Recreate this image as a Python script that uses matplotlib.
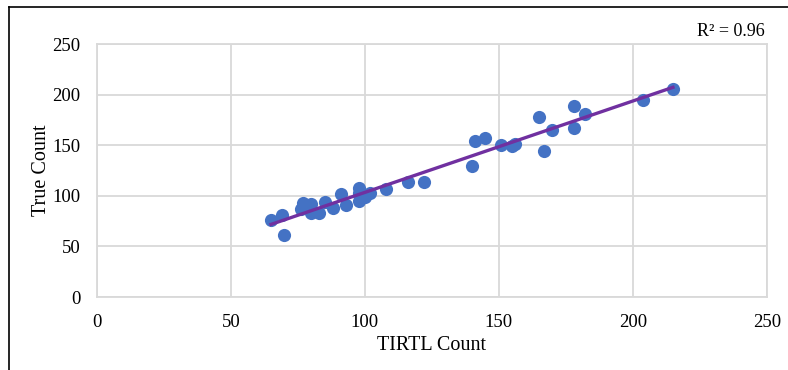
import numpy as np
import matplotlib
matplotlib.use("Agg")
import matplotlib.pyplot as plt
from matplotlib.lines import Line2D

tirtl = [65, 69, 70, 76, 77, 80, 80, 83, 85, 88, 91, 93, 98, 98, 98, 100, 102,
         108, 116, 122, 140, 141, 145, 151, 155, 156, 165, 167, 170, 178, 178,
         182, 204, 215]
true_count = [76, 81, 61, 87, 93, 92, 83, 83, 94, 88, 102, 91, 108, 103, 95, 99, 103,
              107, 114, 114, 130, 154, 157, 150, 149, 151, 178, 144, 165, 189, 167,
              181, 195, 206]
ticks = [0, 50, 100, 150, 200, 250]
r2_label = "R² = 0.96"

plt.rcParams['font.family'] = ['Liberation Serif', 'DejaVu Serif']

fig = plt.figure(figsize=(7.88, 3.70), dpi=100)
ax = fig.add_axes([0.123, 0.197, 0.850, 0.684])

x = np.array(tirtl)
y = np.array(true_count)
ax.scatter(x, y, s=90, color='#4472C4', zorder=3, linewidths=0)

# linear trendline over the data range
m, b = np.polyfit(x, y, 1)
xs = np.array([x.min(), x.max()])
ax.plot(xs, m * xs + b, color='#7030A0', lw=2.4, zorder=4)

ax.set_xlim(0, 250)
ax.set_ylim(0, 250)
ax.set_xticks(ticks)
ax.set_yticks(ticks)
ax.grid(True, color='#D9D9D9', lw=1.3)
ax.set_axisbelow(True)
for s in ax.spines.values():
    s.set_color('#D9D9D9')
    s.set_linewidth(1.3)
ax.tick_params(length=0, labelsize=13.5)
ax.tick_params(axis='x', pad=12)
ax.tick_params(axis='y', pad=12)

ax.set_xlabel("TIRTL Count", fontsize=14.5, labelpad=4)
ax.set_ylabel("True Count", fontsize=14.5, labelpad=1)

fig.text(0.970, 0.892, r2_label, ha='right', va='bottom', fontsize=13)

# frame lines at the top and left of the picture
fig.add_artist(Line2D([0.011, 1.0], [0.981, 0.981], color='black', lw=1.2))
fig.add_artist(Line2D([0.011, 0.011], [0.0, 0.981], color='black', lw=1.2))

fig.savefig("out.png", dpi=100)
